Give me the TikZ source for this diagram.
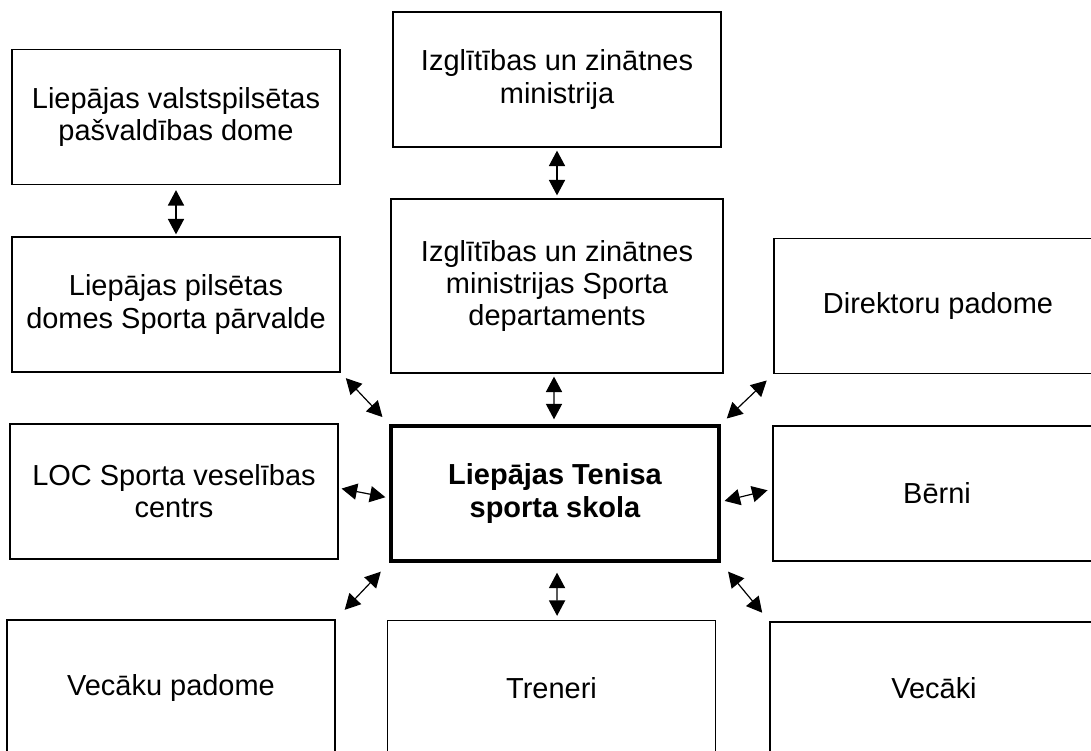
\documentclass[tikz,border=0pt]{standalone}
\usepackage{fontspec}
\setmainfont{Liberation Sans}
\usetikzlibrary{arrows.meta}
\tikzset{
	box/.style={draw,line width=0.9pt,rectangle,minimum width=8.2cm,minimum height=3.375cm,align=center,inner sep=0pt,font=\fontsize{20.6}{22.8}\selectfont},
	mainbox/.style={box,line width=2.4pt,font=\fontsize{20.6}{22.8}\selectfont\bfseries},
	link/.style={line width=0.85pt,{Triangle[length=11pt,width=11.5pt]}-{Triangle[length=11pt,width=11.5pt]}}
}
\begin{document}
\begin{tikzpicture}
			\useasboundingbox (0,0) rectangle (27.275,-18.775);
			\clip (0,0) rectangle (27.275,-18.775);
			\node[box] (dome) at (4.4,-2.925) {Liepājas valstspilsētas\\pašvaldības dome};
			\node[box] (izm) at (13.925,-1.9875) {Izglītības un zinātnes\\ministrija};
			\node[box,minimum width=8.3cm,minimum height=4.35cm] (dep) at (13.925,-7.15) {Izglītības un zinātnes\\ministrijas Sporta\\departaments};
			\node[box] (parv) at (4.4,-7.6125) {Liepājas pilsētas\\domes Sporta pārvalde};
			\node[box] (dir) at (23.45,-7.65) {Direktoru padome};
			\node[box] (loc) at (4.35,-12.2875) {LOC Sporta veselības\\centrs};
			\node[mainbox] (skola) at (13.875,-12.3375) {Liepājas Tenisa\\sporta skola};
			\node[box] (berni) at (23.425,-12.3375) {Bērni};
			\node[box,minimum height=3.4cm] (vpad) at (4.275,-17.2) {Vecāku padome};
			\node[box] (tren) at (13.7875,-17.2) {Treneri};
			\node[box,minimum height=3.3cm] (vec) at (23.35,-17.2) {Vecāki};
			\draw[link,shorten <=0.125cm,shorten >=0.05cm] (dome.south)--(parv.north);
			\draw[link,shorten <=0.075cm,shorten >=0.075cm] (izm.south)--(dep.north);
			\draw[link,shorten <=0.075cm,shorten >=0.125cm] ([xshift=-0.075cm]dep.south)--([xshift=-0.025cm]skola.north);
			\draw[link,shorten <=0.19cm,shorten >=0.25cm] (parv.south east)--(skola.north west);
			\draw[link,shorten <=0.23cm,shorten >=0.21cm] (dir.south west)--(skola.north east);
			\draw[link,shorten <=0.075cm,shorten >=0.1cm] ([yshift=0.0875cm]loc.east)--([yshift=-0.1125cm]skola.west);
			\draw[link,shorten <=0.1cm,shorten >=0.125cm] ([yshift=-0.21cm]skola.east)--([yshift=0.11cm]berni.west);
			\draw[link,shorten <=0.31cm,shorten >=0.33cm] (skola.south west)--(vpad.north east);
			\draw[link,shorten <=0.25cm,shorten >=0.1cm] ([xshift=0.05cm]skola.south)--([xshift=0.14cm]tren.north);
			\draw[link,shorten <=0.29cm,shorten >=0.28cm] (skola.south east)--(vec.north west);
			\end{tikzpicture}
\end{document}
